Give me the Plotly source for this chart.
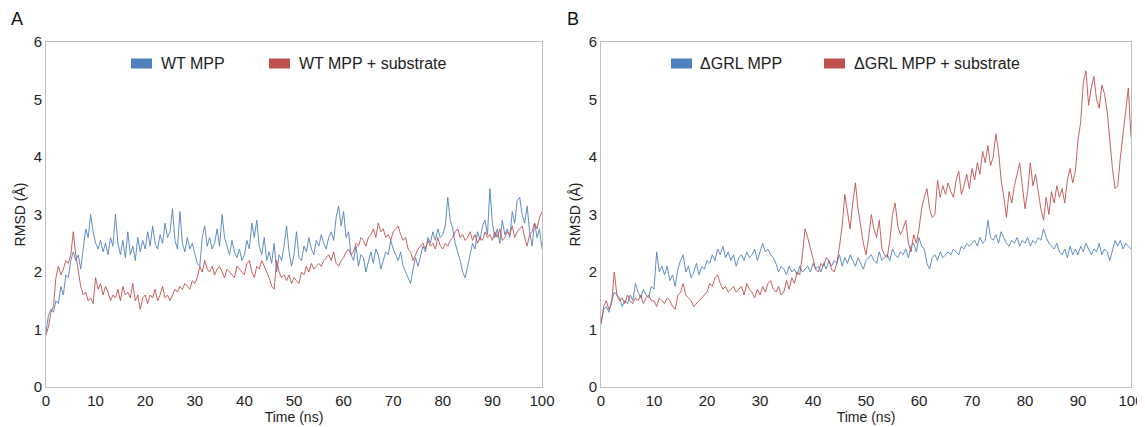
import plotly.graph_objects as go

# time axis, 0.5 ns steps
time_ns = [i * 0.5 for i in range(201)]

wt_mpp = [0.95, 1.25, 1.35, 1.3, 1.5, 1.45, 1.75, 1.6, 1.95, 1.9, 2.2,
          2.35, 2.2, 2.3, 2.05, 2.45, 2.75, 2.6, 3.0, 2.7, 2.5,
          2.4, 2.55, 2.35, 2.5, 2.3, 2.6, 2.45, 3.0, 2.5, 2.3,
          2.55, 2.25, 2.7, 2.3, 2.45, 2.2, 2.6, 2.35, 2.55, 2.4,
          2.7, 2.45, 2.8, 2.5, 2.4, 2.65, 2.5, 2.85, 2.6, 2.7,
          3.1, 2.55, 2.4, 3.05, 2.5, 2.35, 2.6, 2.4, 2.5, 2.3,
          2.15, 2.1, 2.6, 2.8, 2.45, 2.6, 2.4, 2.5, 2.75, 2.45,
          3.0, 2.6, 2.45, 2.3, 2.55, 2.35, 2.25, 2.4, 2.2, 2.3,
          2.55, 2.4, 2.85, 2.6, 2.9, 2.45, 2.3, 2.6, 2.2, 2.35,
          2.15, 2.5, 2.0, 2.3, 2.2, 2.45, 2.8, 2.35, 2.1, 2.3,
          2.7, 2.25, 2.2, 2.45, 2.35, 2.6, 2.4, 2.3, 2.55, 2.45,
          2.65, 2.5, 2.4, 2.6, 2.7, 2.55, 2.95, 3.15, 2.8, 3.05,
          2.6, 2.7, 2.3, 2.2, 2.45, 2.1, 2.3, 2.25, 2.0, 2.2,
          2.35, 2.15, 2.4, 2.3, 2.05, 2.2, 2.35, 2.3, 2.55, 2.4,
          2.3, 2.2, 2.35, 2.1, 2.0, 1.9, 1.8, 2.05, 2.25, 2.1,
          2.3, 2.45, 2.35, 2.6, 2.5, 2.7, 2.55, 2.75, 2.6, 2.65,
          2.8, 3.3, 2.9, 2.75, 2.5, 2.35, 2.2, 2.0, 1.9, 2.1,
          2.3, 2.5, 2.4, 2.7, 2.55, 2.8, 2.9, 2.65, 3.45, 2.85,
          2.6, 2.75, 2.5, 2.9, 2.65, 2.75, 2.6, 3.05, 2.85, 3.25,
          3.3, 3.0, 2.85, 3.15, 2.7, 2.45, 2.85, 2.6, 2.75, 2.4]

wt_sub = [0.9, 1.05, 1.3, 1.4, 1.9, 2.1, 1.95, 2.05, 2.2, 2.15, 2.3,
          2.7, 2.3, 2.0, 1.75, 1.6, 1.65, 1.5, 1.55, 1.45, 1.9,
          1.7, 1.8, 1.6, 1.75, 1.65, 1.5, 1.6, 1.55, 1.7, 1.5,
          1.75, 1.6, 1.65, 1.55, 1.8, 1.5, 1.6, 1.35, 1.55, 1.6,
          1.45, 1.6, 1.55, 1.7, 1.5, 1.6, 1.75, 1.55, 1.6, 1.5,
          1.6, 1.7, 1.65, 1.75, 1.7, 1.8, 1.75, 1.7, 1.85, 1.8,
          1.9, 2.1, 2.0, 2.2, 2.05, 2.0, 2.1, 1.95, 2.05, 2.1,
          2.0, 1.9, 2.05, 2.0, 1.95, 1.9, 2.1, 2.05, 2.0, 1.95,
          2.15, 2.2, 2.0, 1.9, 2.1, 2.05, 2.2, 2.1, 2.0, 1.9,
          1.75, 1.7, 2.2, 2.0, 1.9, 1.95, 1.85, 1.95, 1.8, 1.9,
          1.85, 1.8, 2.0, 1.95, 2.1, 2.0, 2.15, 2.05, 2.1, 2.15,
          2.1, 2.2, 2.25, 2.3, 2.2, 2.35, 2.15, 2.1, 2.2, 2.25,
          2.35, 2.4, 2.3, 2.35, 2.5, 2.45, 2.6, 2.55, 2.45, 2.6,
          2.65, 2.75, 2.6, 2.85, 2.7, 2.75, 2.6, 2.65, 2.55, 2.7,
          2.75, 2.8, 2.65, 2.55, 2.6, 2.4, 2.35, 2.2, 2.3, 2.4,
          2.45, 2.5, 2.4, 2.55, 2.45, 2.5, 2.4, 2.6, 2.45, 2.4,
          2.5, 2.45, 2.55, 2.6, 2.7, 2.75, 2.6, 2.65, 2.55, 2.6,
          2.7, 2.55, 2.65, 2.5, 2.6, 2.55, 2.7, 2.6, 2.65, 2.55,
          2.7, 2.6, 2.75, 2.55, 2.6, 2.7, 2.65, 2.8, 2.6, 2.7,
          2.75, 2.8, 2.6, 2.45, 2.65, 2.7, 2.85, 2.75, 2.95, 3.05]

grl_mpp = [1.1, 1.35, 1.4, 1.3, 1.5, 1.65, 1.6, 1.55, 1.4, 1.5, 1.45,
           1.6, 1.5, 1.8, 1.65, 1.55, 1.7, 1.6, 1.55, 1.75, 1.7,
           2.35, 2.0, 2.1, 1.95, 2.1, 1.85, 1.95, 1.75, 2.05, 2.2,
           2.3, 2.0, 2.1, 1.9, 2.0, 2.15, 1.95, 2.1, 2.05, 2.2,
           2.15, 2.3, 2.2, 2.4, 2.3, 2.45, 2.25, 2.35, 2.2, 2.3,
           2.1, 2.25, 2.3, 2.2, 2.35, 2.25, 2.3, 2.4, 2.2, 2.35,
           2.5, 2.35, 2.4, 2.3, 2.25, 2.15, 2.0, 2.1, 2.05, 1.95,
           2.1, 2.0, 2.05, 1.95, 2.1, 2.0, 2.05, 2.1, 2.0, 2.15,
           2.05, 2.1, 2.0, 2.15, 2.05, 2.2, 2.1, 2.2, 2.15, 2.3,
           2.1, 2.25, 2.15, 2.3, 2.2, 2.1, 2.25, 2.15, 2.05, 2.2,
           2.25, 2.3, 2.2, 2.15, 2.35, 2.2, 2.25, 2.3, 2.2, 2.4,
           2.3, 2.25, 2.35, 2.3, 2.4, 2.25, 2.45, 2.5, 2.35, 2.6,
           2.45, 2.4, 2.15, 2.05, 2.25, 2.3, 2.2, 2.35, 2.25, 2.3,
           2.35, 2.3, 2.4, 2.35, 2.3, 2.45, 2.4, 2.5, 2.45, 2.5,
           2.55, 2.45, 2.6, 2.5, 2.55, 2.9, 2.6, 2.55, 2.65, 2.5,
           2.7, 2.6, 2.5, 2.45, 2.55, 2.5, 2.6, 2.45, 2.55, 2.5,
           2.6, 2.45, 2.55, 2.5, 2.6, 2.55, 2.75, 2.6, 2.5, 2.45,
           2.4, 2.5, 2.35, 2.3, 2.4, 2.25, 2.45, 2.3, 2.4, 2.3,
           2.45, 2.35, 2.5, 2.4, 2.3, 2.4, 2.35, 2.5, 2.3, 2.4,
           2.35, 2.2, 2.4, 2.55, 2.45, 2.55, 2.4, 2.5, 2.45, 2.4]

grl_sub = [1.1, 1.4, 1.5, 1.35, 1.45, 2.0, 1.6, 1.5, 1.55, 1.45, 1.6,
           1.5, 1.45, 1.55, 1.5, 1.6, 1.45, 1.55, 1.6, 1.5, 1.5,
           1.4, 1.55, 1.5, 1.45, 1.55, 1.5, 1.4, 1.35, 1.6, 1.65,
           1.8, 1.6, 1.55, 1.5, 1.4, 1.45, 1.5, 1.55, 1.6, 1.65,
           1.8, 1.75, 1.9, 1.95, 1.8, 1.7, 1.75, 1.65, 1.7, 1.75,
           1.65, 1.7, 1.75, 1.6, 1.8, 1.7, 1.65, 1.55, 1.7, 1.6,
           1.75, 1.65, 1.8, 1.85, 1.7, 1.65, 1.75, 1.6, 1.65, 1.85,
           1.7, 1.9, 1.8, 2.0, 1.95, 2.3, 2.75, 2.6, 2.4, 2.2,
           2.05, 2.0, 2.15, 2.1, 2.25, 2.2, 2.05, 2.0, 2.15, 2.45,
           2.8, 3.35, 3.0, 2.75, 3.2, 3.55, 3.1, 2.8, 2.5, 2.3,
           2.6, 3.0, 2.75, 2.6, 2.9, 2.4, 2.3, 2.25, 2.55, 3.0,
           3.2, 2.8, 2.65, 2.75, 2.9, 2.5, 2.35, 2.65, 2.5, 2.75,
           3.1, 3.3, 3.45, 3.1, 2.95, 3.0, 3.6, 3.3, 3.5, 3.35,
           3.55, 3.4, 3.3, 3.6, 3.75, 3.35, 3.5, 3.7, 3.45, 3.8,
           3.6, 3.9, 3.7, 4.1, 3.9, 4.2, 3.85, 4.0, 4.4, 4.1,
           3.6, 3.3, 2.95, 3.4, 3.2, 3.5, 3.7, 3.9, 3.5, 3.1,
           3.4, 3.9, 3.5, 3.7, 3.4, 3.1, 2.9, 3.3, 3.0, 3.4,
           3.2, 3.5, 3.3, 3.45, 3.2, 3.6, 3.8, 3.55, 3.75, 4.3,
           4.6, 5.3, 5.5, 4.9, 5.2, 5.4, 5.0, 4.85, 5.25, 5.1,
           4.8, 4.3, 3.8, 3.45, 3.5, 4.0, 4.4, 4.9, 5.2, 4.35]

x_ticks = [0, 10, 20, 30, 40, 50, 60, 70, 80, 90, 100]
y_ticks = [0, 1, 2, 3, 4, 5, 6]

blue = '#4F81BD'
red = '#C0504D'
font = 'Liberation Sans, Arial, sans-serif'

# page body has an 8px default margin, so the figure is drawn 8px in from the corner
OFF = 8
W, H = 1145 - OFF, 427 - OFF
ML, MR, MT, MB = 46 - OFF, 14, 42 - OFF, 40
PW, PH = W - ML - MR, H - MT - MB


# screen pixel -> paper helpers (paper is the plot area)
def px(x):
    return (x - OFF - ML) / PW


def py(y):
    return (H - MB - (y - OFF)) / PH


fig = go.Figure()

panels = [
    ('x', 'y', wt_mpp, wt_sub),
    ('x2', 'y2', grl_mpp, grl_sub),
]

for xa, ya, s1, s2 in panels:
    fig.add_trace(go.Scatter(x=time_ns, y=s1, mode='lines', line=dict(color=blue, width=0.9),
                             xaxis=xa, yaxis=ya, showlegend=False, hoverinfo='skip'))
    fig.add_trace(go.Scatter(x=time_ns, y=s2, mode='lines', line=dict(color=red, width=0.9),
                             xaxis=xa, yaxis=ya, showlegend=False, hoverinfo='skip'))

axis_common = dict(showgrid=False, zeroline=False, showline=True, linecolor='#BFBFBF',
                   linewidth=1, mirror=True, ticks='', automargin=False,
                   tickfont=dict(size=15, color='#222222'))

# manual legends: (box left px, text left px, label, colour)
legend_items = [
    (131, 159, 'WT MPP', blue),
    (269, 297, 'WT MPP + substrate', red),
    (671, 698, '\u0394GRL MPP', blue),
    (824, 852, '\u0394GRL MPP + substrate', red),
]
shapes = []
annotations = []
for bx, tx, label, c in legend_items:
    shapes.append(dict(type='rect', xref='paper', yref='paper', x0=px(bx), x1=px(bx + 21),
                       y0=py(68.5), y1=py(58.5), fillcolor=c, line=dict(width=0)))
    annotations.append(dict(text=label, x=px(tx), y=py(63.5), xref='paper', yref='paper',
                            showarrow=False, xanchor='left', yanchor='middle',
                            font=dict(size=16, color='#222222')))

annotations.append(dict(text='A', x=px(9), y=py(19), xref='paper', yref='paper', showarrow=False,
                        font=dict(size=18, color='#111111'), xanchor='left', yanchor='middle'))
annotations.append(dict(text='B', x=px(565), y=py(19), xref='paper', yref='paper', showarrow=False,
                        font=dict(size=18, color='#111111'), xanchor='left', yanchor='middle'))

fig.update_layout(
    width=W, height=H,
    margin=dict(l=ML, r=MR, t=MT, b=MB),
    paper_bgcolor='white', plot_bgcolor='white',
    font=dict(family=font, color='#222222'),
    showlegend=False,
    xaxis=dict(domain=[0, px(542)], range=[0, 100], tickvals=x_ticks, anchor='y',
               title=dict(text='Time (ns)', font=dict(size=14), standoff=3), **axis_common),
    yaxis=dict(domain=[0, 1], range=[0, 6], tickvals=y_ticks, anchor='x',
               title=dict(text='RMSD (\u00c5)', font=dict(size=14), standoff=4), **axis_common),
    xaxis2=dict(domain=[px(601), 1], range=[0, 100], tickvals=x_ticks, anchor='y2',
                title=dict(text='Time (ns)', font=dict(size=14), standoff=3), **axis_common),
    yaxis2=dict(domain=[0, 1], range=[0, 6], tickvals=y_ticks, anchor='x2',
                title=dict(text='RMSD (\u00c5)', font=dict(size=14), standoff=4), **axis_common),
    shapes=shapes,
    annotations=annotations,
)

fig.write_html("out.html")
